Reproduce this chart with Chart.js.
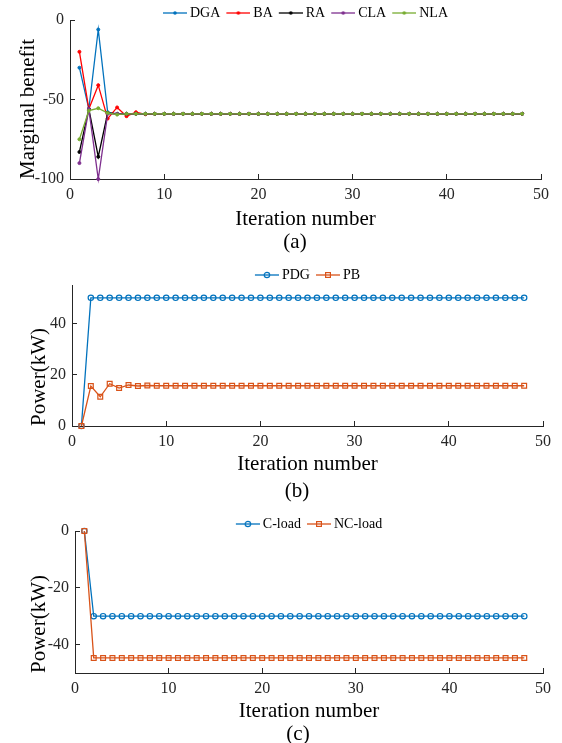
<!DOCTYPE html>
<html>
<head>
<meta charset="utf-8">
<title>Convergence of iterative dispatch</title>
<script src="https://cdn.jsdelivr.net/npm/chart.js@4.4.1/dist/chart.umd.min.js"></script>
<style>
  html, body { margin: 0; padding: 0; background: #fff; }
  #fig { position: relative; width: 562px; height: 743px; overflow: hidden; }
  #fig canvas { position: absolute; left: 0; }
  .cap { position: absolute; width: 100px; text-align: center; line-height: 24px;
         font: 21px "Liberation Serif", "Times New Roman", serif; color: #000; }
</style>
</head>
<body>
<div id="fig">
  <canvas id="panelA" width="562" height="242" style="top:-10px"></canvas>
  <canvas id="panelB" width="562" height="222" style="top:255px"></canvas>
  <canvas id="panelC" width="562" height="223" style="top:501px"></canvas>
  <div class="cap" style="left:245px; top:229px">(a)</div>
  <div class="cap" style="left:247px; top:478px">(b)</div>
  <div class="cap" style="left:248px; top:721px">(c)</div>
</div>
<script>
// Iteration index shared by all three panels
const iterations = [1, 2, 3, 4, 5, 6, 7, 8, 9, 10, 11, 12, 13, 14, 15, 16, 17, 18, 19, 20,
  21, 22, 23, 24, 25, 26, 27, 28, 29, 30, 31, 32, 33, 34, 35, 36, 37, 38, 39, 40,
  41, 42, 43, 44, 45, 46, 47, 48];
const xTicks = [0, 10, 20, 30, 40, 50];

// (a) marginal benefit of each agent
const benefitDGA = [-30, -56, -6, -58, -59, -59, -59, -59, -59, -59, -59, -59, -59, -59, -59, -59,
  -59, -59, -59, -59, -59, -59, -59, -59, -59, -59, -59, -59, -59, -59, -59, -59,
  -59, -59, -59, -59, -59, -59, -59, -59, -59, -59, -59, -59, -59, -59, -59, -59];
const benefitBA = [-20, -56, -41, -62, -55, -60.5, -58, -59.3, -59, -59, -59, -59, -59, -59, -59, -59,
  -59, -59, -59, -59, -59, -59, -59, -59, -59, -59, -59, -59, -59, -59, -59, -59,
  -59, -59, -59, -59, -59, -59, -59, -59, -59, -59, -59, -59, -59, -59, -59, -59];
const benefitRA = [-83, -56, -86, -58.5, -59, -59, -59, -59, -59, -59, -59, -59, -59, -59, -59, -59,
  -59, -59, -59, -59, -59, -59, -59, -59, -59, -59, -59, -59, -59, -59, -59, -59,
  -59, -59, -59, -59, -59, -59, -59, -59, -59, -59, -59, -59, -59, -59, -59, -59];
const benefitCLA = [-90, -56, -100, -59, -59, -59, -59, -59, -59, -59, -59, -59, -59, -59, -59, -59,
  -59, -59, -59, -59, -59, -59, -59, -59, -59, -59, -59, -59, -59, -59, -59, -59,
  -59, -59, -59, -59, -59, -59, -59, -59, -59, -59, -59, -59, -59, -59, -59, -59];
const benefitNLA = [-75, -57, -55.5, -58.5, -59.5, -59, -59, -59, -59, -59, -59, -59, -59, -59, -59, -59,
  -59, -59, -59, -59, -59, -59, -59, -59, -59, -59, -59, -59, -59, -59, -59, -59,
  -59, -59, -59, -59, -59, -59, -59, -59, -59, -59, -59, -59, -59, -59, -59, -59];
const benefitTicks = [0, -50, -100];

// (b) generator and battery power
const powerPDG = [0, 50, 50, 50, 50, 50, 50, 50, 50, 50, 50, 50, 50, 50, 50, 50,
  50, 50, 50, 50, 50, 50, 50, 50, 50, 50, 50, 50, 50, 50, 50, 50,
  50, 50, 50, 50, 50, 50, 50, 50, 50, 50, 50, 50, 50, 50, 50, 50];
const powerPB = [0, 15.6, 11.4, 16.5, 14.8, 16, 15.6, 15.8, 15.7, 15.7, 15.7, 15.7, 15.7, 15.7, 15.7, 15.7,
  15.7, 15.7, 15.7, 15.7, 15.7, 15.7, 15.7, 15.7, 15.7, 15.7, 15.7, 15.7, 15.7, 15.7, 15.7, 15.7,
  15.7, 15.7, 15.7, 15.7, 15.7, 15.7, 15.7, 15.7, 15.7, 15.7, 15.7, 15.7, 15.7, 15.7, 15.7, 15.7];
const powerTicks = [0, 20, 40];

// (c) controllable and non-controllable load
const loadC = [0, -30, -30, -30, -30, -30, -30, -30, -30, -30, -30, -30, -30, -30, -30, -30,
  -30, -30, -30, -30, -30, -30, -30, -30, -30, -30, -30, -30, -30, -30, -30, -30,
  -30, -30, -30, -30, -30, -30, -30, -30, -30, -30, -30, -30, -30, -30, -30, -30];
const loadNC = [0, -44.7, -44.7, -44.7, -44.7, -44.7, -44.7, -44.7, -44.7, -44.7, -44.7, -44.7, -44.7, -44.7, -44.7, -44.7,
  -44.7, -44.7, -44.7, -44.7, -44.7, -44.7, -44.7, -44.7, -44.7, -44.7, -44.7, -44.7, -44.7, -44.7, -44.7, -44.7,
  -44.7, -44.7, -44.7, -44.7, -44.7, -44.7, -44.7, -44.7, -44.7, -44.7, -44.7, -44.7, -44.7, -44.7, -44.7, -44.7];
const loadTicks = [0, -20, -40];

const SERIF = '"Liberation Serif", "Times New Roman", serif';
const AXIS = '#262626';
const BLUE = '#0072BD', ORANGE = '#D95319';

// line-with-marker swatch for the legend
function legendIcon(color, marker) {
  const c = document.createElement('canvas');
  c.width = 28; c.height = 12;
  const g = c.getContext('2d');
  g.strokeStyle = color; g.fillStyle = color; g.lineWidth = 1.3;
  g.beginPath(); g.moveTo(4, 6); g.lineTo(28, 6); g.stroke();
  g.lineWidth = 1.2;
  if (marker === 'dot') { g.beginPath(); g.arc(16, 6, 1.8, 0, Math.PI * 2); g.fill(); }
  else if (marker === 'circle') { g.beginPath(); g.arc(16, 6, 2.7, 0, Math.PI * 2); g.stroke(); }
  else if (marker === 'rect') { g.strokeRect(13.6, 3.6, 4.8, 4.8); }
  return c;
}

// moves the legend row down so it sits just above the axes
const nudgeLegend = {
  id: 'nudgeLegend',
  afterLayout(chart, args, opts) {
    const lg = chart.legend;
    if (lg && opts.dy) { lg.top += opts.dy; lg.bottom += opts.dy; }
  }
};

function markerOptions(marker, color) {
  if (marker === 'dot') return { pointStyle: 'circle', pointRadius: 1.5, pointBorderWidth: 1, pointBackgroundColor: color };
  if (marker === 'circle') return { pointStyle: 'circle', pointRadius: 2.7, pointBorderWidth: 1.2, pointBackgroundColor: 'rgba(0,0,0,0)' };
  return { pointStyle: 'rect', pointRadius: 3.4, pointBorderWidth: 1.2, pointBackgroundColor: 'rgba(0,0,0,0)' };
}

function drawPanel(id, cfg) {
  const icons = cfg.series.map(s => legendIcon(s.color, s.marker));
  const n = cfg.series.length;
  const datasets = cfg.series.map((s, i) => Object.assign({
    label: s.name,
    data: s.values,
    borderColor: s.color,
    backgroundColor: s.color,
    pointBorderColor: s.color,
    borderWidth: 1.3,
    tension: 0,
    clip: false,
    order: n - i
  }, markerOptions(s.marker, s.color)));

  const tickFont = { family: SERIF, size: 16 };
  const titleFont = { family: SERIF, size: 21 };
  // inward-pointing tick marks, no grid lines inside the axes
  const gridOpts = { drawOnChartArea: false, drawTicks: true, tickLength: -5, color: AXIS, lineWidth: 1 };
  const borderOpts = { display: true, color: AXIS, width: 1 };

  new Chart(document.getElementById(id), {
    type: 'line',
    data: { labels: iterations, datasets },
    plugins: [nudgeLegend],
    options: {
      responsive: false,
      animation: false,
      devicePixelRatio: 1,
      layout: { padding: { left: cfg.padL, right: cfg.padR, top: 0, bottom: 0 } },
      scales: {
        x: {
          type: 'linear', min: 0, max: 50,
          afterBuildTicks: s => { s.ticks = xTicks.map(v => ({ value: v })); },
          afterFit: s => { s.height = cfg.xAxisHeight; },
          grid: gridOpts, border: borderOpts,
          ticks: { color: AXIS, padding: 11, font: tickFont, maxRotation: 0, autoSkip: false },
          title: { display: true, text: 'Iteration number', color: '#000', font: titleFont, padding: 0 }
        },
        y: {
          type: 'linear', min: cfg.yMin, max: cfg.yMax,
          afterBuildTicks: s => { s.ticks = cfg.yTicks.map(v => ({ value: v })); },
          afterFit: s => { s.width = cfg.yAxisWidth; },
          grid: gridOpts, border: borderOpts,
          ticks: { color: AXIS, padding: 11, font: tickFont },
          title: { display: true, text: cfg.yTitle, align: 'start', color: '#000', font: titleFont, padding: 0 }
        }
      },
      plugins: {
        tooltip: { enabled: false },
        nudgeLegend: { dy: cfg.legendDy },
        legend: {
          position: 'top', align: 'center', fullSize: false,
          labels: {
            usePointStyle: true, pointStyleWidth: 20, padding: 6, color: '#000',
            font: { family: SERIF, size: 14 },
            generateLabels: chart => chart.data.datasets.map((ds, i) => ({
              text: ds.label, pointStyle: icons[i], fillStyle: ds.borderColor,
              strokeStyle: ds.borderColor, lineWidth: 0, hidden: false,
              datasetIndex: i, fontColor: '#000'
            }))
          }
        }
      }
    }
  });
}

drawPanel('panelA', {
  series: [
    { name: 'DGA', values: benefitDGA, color: BLUE, marker: 'dot' },
    { name: 'BA', values: benefitBA, color: '#FF0000', marker: 'dot' },
    { name: 'RA', values: benefitRA, color: '#000000', marker: 'dot' },
    { name: 'CLA', values: benefitCLA, color: '#7E2F8E', marker: 'dot' },
    { name: 'NLA', values: benefitNLA, color: '#77AC30', marker: 'dot' }
  ],
  yMin: -100, yMax: 0, yTicks: benefitTicks, yTitle: 'Marginal benefit',
  padL: 16, padR: 21, yAxisWidth: 54, xAxisHeight: 53, legendDy: 10
});

drawPanel('panelB', {
  series: [
    { name: 'PDG', values: powerPDG, color: BLUE, marker: 'circle' },
    { name: 'PB', values: powerPB, color: ORANGE, marker: 'rect' }
  ],
  yMin: 0, yMax: 55, yTicks: powerTicks, yTitle: 'Power(kW)',
  padL: 27, padR: 18, yAxisWidth: 45, xAxisHeight: 51, legendDy: 7
});

drawPanel('panelC', {
  series: [
    { name: 'C-load', values: loadC, color: BLUE, marker: 'circle' },
    { name: 'NC-load', values: loadNC, color: ORANGE, marker: 'rect' }
  ],
  yMin: -50, yMax: 0, yTicks: loadTicks, yTitle: 'Power(kW)',
  padL: 27, padR: 15, yAxisWidth: 48, xAxisHeight: 51, legendDy: 10
});
</script>
</body>
</html>
